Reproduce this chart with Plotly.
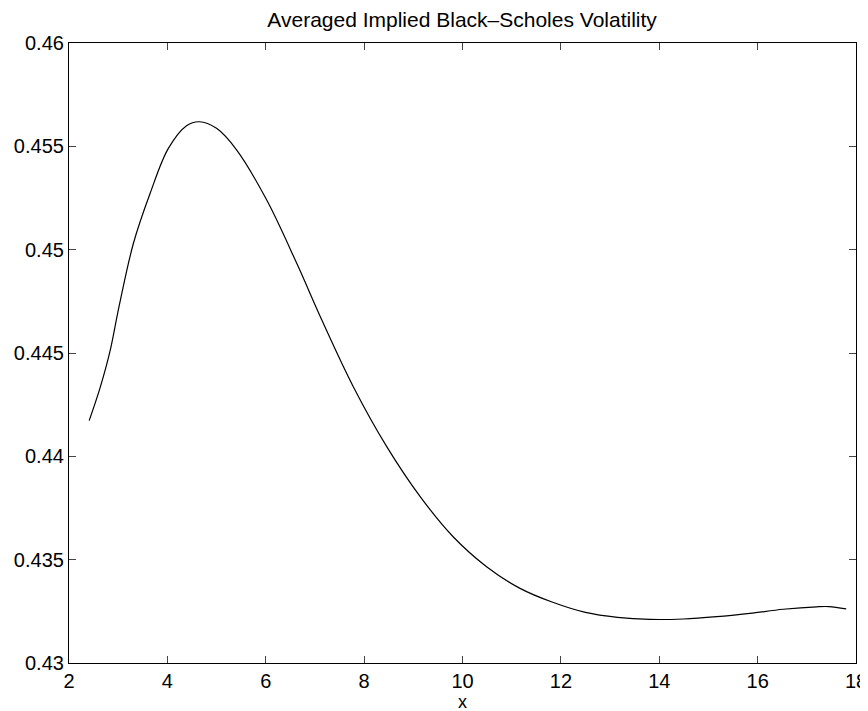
import plotly.graph_objects as go

x_vals = [2.41, 2.63, 2.83, 3.02, 3.31, 3.65, 4.02, 4.39, 4.65, 5.0, 5.41, 6.02, 6.63,
          7.14, 7.78, 8.46, 9.14, 9.81, 10.49, 11.17, 11.82, 12.5, 13.15, 13.81, 14.49,
          15.17, 15.84, 16.52, 17.2, 17.45, 17.8]
y_vals = [0.44173, 0.44330, 0.44505, 0.44728, 0.45031, 0.45273, 0.4549, 0.4560, 0.45619,
          0.45587, 0.45482, 0.4524, 0.44934, 0.4466, 0.44337, 0.44047, 0.43805, 0.43611,
          0.43466, 0.43361, 0.43295, 0.43245, 0.43221, 0.43211, 0.43213, 0.43224, 0.4324,
          0.4326, 0.43272, 0.43273, 0.43262]

x_ticks = [2, 4, 6, 8, 10, 12, 14, 16, 18]
y_ticks = [0.43, 0.435, 0.44, 0.445, 0.45, 0.455, 0.46]
y_tick_text = ["0.43", "0.435", "0.44", "0.445", "0.45", "0.455", "0.46"]

title_text = "Averaged Implied Black\u2013Scholes Volatility"
x_label = "x"

font_family = "Liberation Sans, Arial, Helvetica, sans-serif"

fig = go.Figure()
fig.add_trace(go.Scatter(x=x_vals, y=y_vals, mode="lines",
                         line=dict(color="black", width=1.2, shape="spline", smoothing=1.0),
                         showlegend=False))

axis_common = dict(showline=True, linecolor="black", linewidth=1.2, mirror="ticks",
                   ticks="inside", ticklen=7, tickcolor="#444", tickwidth=1,
                   showgrid=False, zeroline=False, automargin=False,
                   tickfont=dict(family=font_family, size=20, color="black"))

# page body has an 8px default margin, so the figure is sized/offset to compensate
fig.update_layout(
    width=860, height=703,
    margin=dict(l=61, r=12, t=35, b=48),
    paper_bgcolor="white", plot_bgcolor="white",
    title=dict(text=title_text, x=0.528, xanchor="center", y=0.983, yanchor="middle",
               font=dict(family=font_family, size=21, color="black")),
    xaxis=dict(range=[2, 18], tickvals=x_ticks, **axis_common),
    yaxis=dict(range=[0.43, 0.46], tickvals=y_ticks, ticktext=y_tick_text, **axis_common),
    annotations=[dict(text=x_label, xref="paper", yref="paper", x=0.5, y=-0.0635,
                      xanchor="center", yanchor="middle", showarrow=False,
                      font=dict(family=font_family, size=18, color="black"))],
)

fig.write_html("out.html")
